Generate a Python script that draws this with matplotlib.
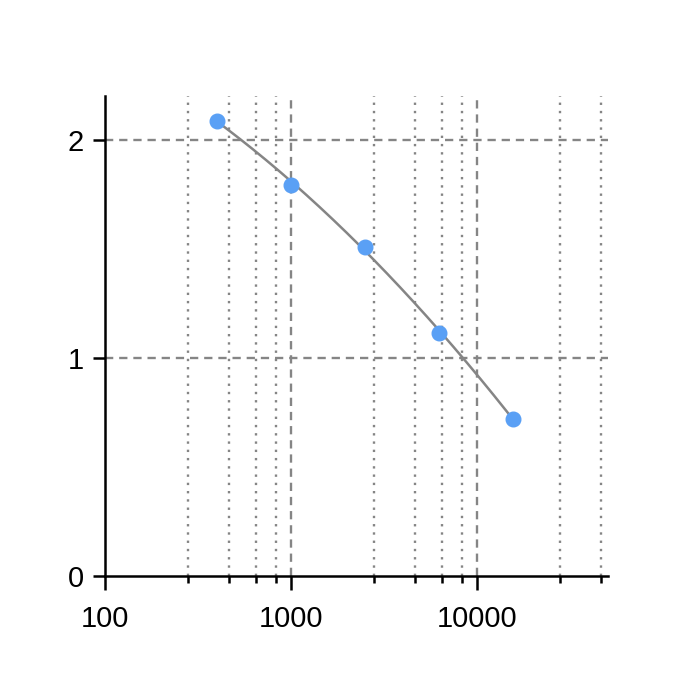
import numpy as np
import matplotlib.pyplot as plt

plt.rcParams['font.family'] = ['Liberation Sans', 'DejaVu Sans']

# dane
stezenie = [400, 1000, 2500, 6250, 15625]
wartosc = [2.087, 1.794, 1.509, 1.115, 0.72]

glowne = [100, 1000, 10000]
etykiety_x = ['100', '1000', '10000']
pomocnicze_mnozniki = [2.8, 4.64, 6.46, 8.3]
ticki_y = [0, 1, 2]

fig = plt.figure(figsize=(7, 7), dpi=100)
ax = fig.add_axes([0.15, 0.177, 0.7186, 0.686])

ax.set_xscale('log')
ax.set_xlim(100, 50600)
ax.set_ylim(0, 2.2)

pomocnicze = [d * m for d in glowne for m in pomocnicze_mnozniki]
pomocnicze = [p for p in pomocnicze if p < 50600]

# siatka
for p in pomocnicze:
    ax.axvline(p, color='#858585', linestyle=(0, (1, 2.5)), linewidth=1.7, zorder=1)
for g in glowne[1:]:
    ax.axvline(g, color='#858585', linestyle=(0, (3.5, 2.5)), linewidth=1.7, zorder=1)
for t in ticki_y[1:]:
    ax.axhline(t, color='#858585', linestyle=(0, (3.5, 2.5)), linewidth=1.7, zorder=1)

# krzywa dopasowania
lx = np.log10(stezenie)
wsp = np.polyfit(lx, wartosc, 2)
xs = np.linspace(lx[0], lx[-1], 200)
ax.plot(10 ** xs, np.polyval(wsp, xs), color='#858585', linewidth=1.8, zorder=2)

ax.plot(stezenie, wartosc, 'o', color='#5aa0f5', markersize=10.5, zorder=3)

ax.set_xticks(glowne)
ax.set_xticklabels(etykiety_x)
ax.set_xticks(pomocnicze, minor=True)
ax.xaxis.set_minor_formatter(plt.NullFormatter())
ax.set_yticks(ticki_y)
ax.set_yticklabels([str(t) for t in ticki_y])

ax.tick_params(axis='x', which='major', length=10, width=1.8, labelsize=21, pad=11, direction='out')
ax.tick_params(axis='x', which='minor', length=5, width=1.8, direction='out')
ax.tick_params(axis='y', which='major', length=9, width=1.8, labelsize=21, pad=6, direction='out')
ax.tick_params(axis='y', which='minor', length=0)

for s in ['top', 'right']:
    ax.spines[s].set_visible(False)
for s in ['left', 'bottom']:
    ax.spines[s].set_linewidth(1.8)

fig.savefig('out.png', dpi=100)
